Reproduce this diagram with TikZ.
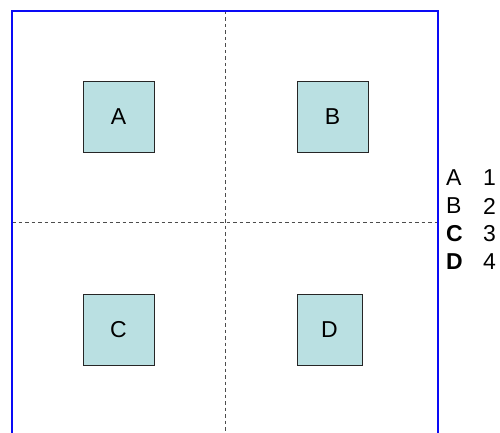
\documentclass[tikz,border=0pt]{standalone}
\usepackage{fontspec}
\setmainfont{Liberation Sans}
\usetikzlibrary{positioning}

\definecolor{boxfill}{RGB}{186,224,226}
\definecolor{framecol}{RGB}{10,10,245}

\begin{document}
\begin{tikzpicture}[x=1pt,y=-1pt,
        square/.style={draw=black!85,fill=boxfill,line width=0.9pt,
            minimum width=71pt,minimum height=71pt,inner sep=0pt,
            font=\fontsize{23}{26}\selectfont},
        key/.style={anchor=west,inner sep=0pt,font=\fontsize{23}{26}\selectfont},
        grid/.style={draw=black!70,line width=0.9pt,dash pattern=on 3.5pt off 3pt}]
        \useasboundingbox (0,0) rectangle (500,433);

        % quarter lines
        \draw[grid] (225,11) -- (225,433);
        \draw[grid] (12,222.5) -- (438,222.5);

        % outer frame, open at the bottom
        \draw[framecol,line width=2.9pt] (12,433) -- (12,11) -- (438,11) -- (438,433);

        \begin{scope}[every node/.style={square}]
            \node (A) at (118.5,116.5) {A};
            \node (B) at (332.5,116.5) {B};
            \node (C) at (118.5,329.5) {C};
            \node[minimum width=65pt] (D) at (329.5,329.5) {D};
        \end{scope}

        \begin{scope}[every node/.style={key}]
            \node (kA) at (446,178) {A};
            \node (kB) at (446,206) {B};
            \node (kC) at (446,234) {\bfseries C};
            \node (kD) at (446,262) {\bfseries D};
            \node (n1) at (483,178) {1};
            \node (n2) at (483,206) {2};
            \node (n3) at (483,234) {3};
            \node (n4) at (483,262) {4};
        \end{scope}
    \end{tikzpicture}
\end{document}
